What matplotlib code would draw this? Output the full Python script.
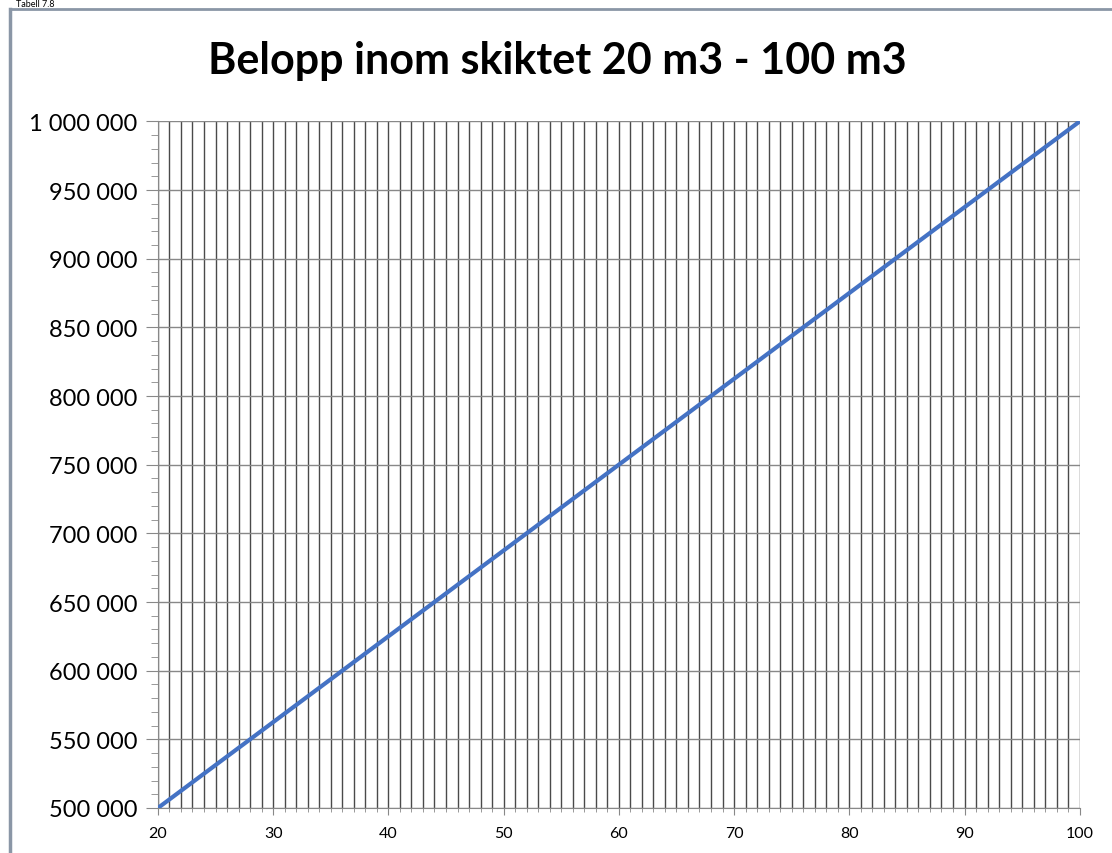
import matplotlib.pyplot as plt
import matplotlib.ticker as mticker
from matplotlib.lines import Line2D

volume = [20, 30, 40, 50, 60, 70, 80, 90, 100]
amount = [500000, 562500, 625000, 687500, 750000, 812500, 875000, 937500, 1000000]

title = 'Belopp inom skiktet 20 m3 - 100 m3'
caption = 'Tabell 7.8'

plt.rcParams['font.family'] = ['Lato', 'DejaVu Sans']

fig = plt.figure(figsize=(11.12, 8.54), dpi=100)

# frame around the chart object
fig.add_artist(Line2D([0.009, 0.009], [0.0, 0.988], color='#8a96a6', lw=2.5, transform=fig.transFigure))
fig.add_artist(Line2D([0.009, 1.0], [0.988, 0.988], color='#8a96a6', lw=2, transform=fig.transFigure))
fig.text(0.014, 0.9995, caption, fontsize=6.5, va='top', ha='left')

ax = fig.add_axes([0.142, 0.0527, 0.829, 0.804])
ax.plot(volume, amount, color='#4472c4', lw=3, solid_capstyle='butt', zorder=3)

ax.set_xlim(20, 100)
ax.set_ylim(500000, 1000000)

ax.xaxis.set_major_locator(mticker.MultipleLocator(10))
ax.xaxis.set_minor_locator(mticker.MultipleLocator(1))
ax.yaxis.set_major_locator(mticker.MultipleLocator(50000))
ax.yaxis.set_minor_locator(mticker.MultipleLocator(10000))
ax.yaxis.set_major_formatter(mticker.FuncFormatter(lambda v, p: f'{int(v):,}'.replace(',', ' ')))

ax.grid(True, which='both', axis='x', color='#4a4a4a', lw=1)
ax.grid(True, which='major', axis='y', color='#888888', lw=1)
ax.set_axisbelow(True)

ax.tick_params(axis='y', which='major', length=9, color='#888888', labelsize=17, pad=6)
ax.tick_params(axis='y', which='minor', length=5, color='#888888')
ax.tick_params(axis='x', which='major', length=5, color='#888888', labelsize=11.5, pad=8)
ax.tick_params(axis='x', which='minor', length=3, color='#888888')

for s in ['top', 'right']:
    ax.spines[s].set_visible(False)
for s in ['left', 'bottom']:
    ax.spines[s].set_color('#888888')

fig.text(0.501, 0.929, title, fontsize=31, fontweight='bold', ha='center', va='center')

fig.savefig('out.png', dpi=100)
